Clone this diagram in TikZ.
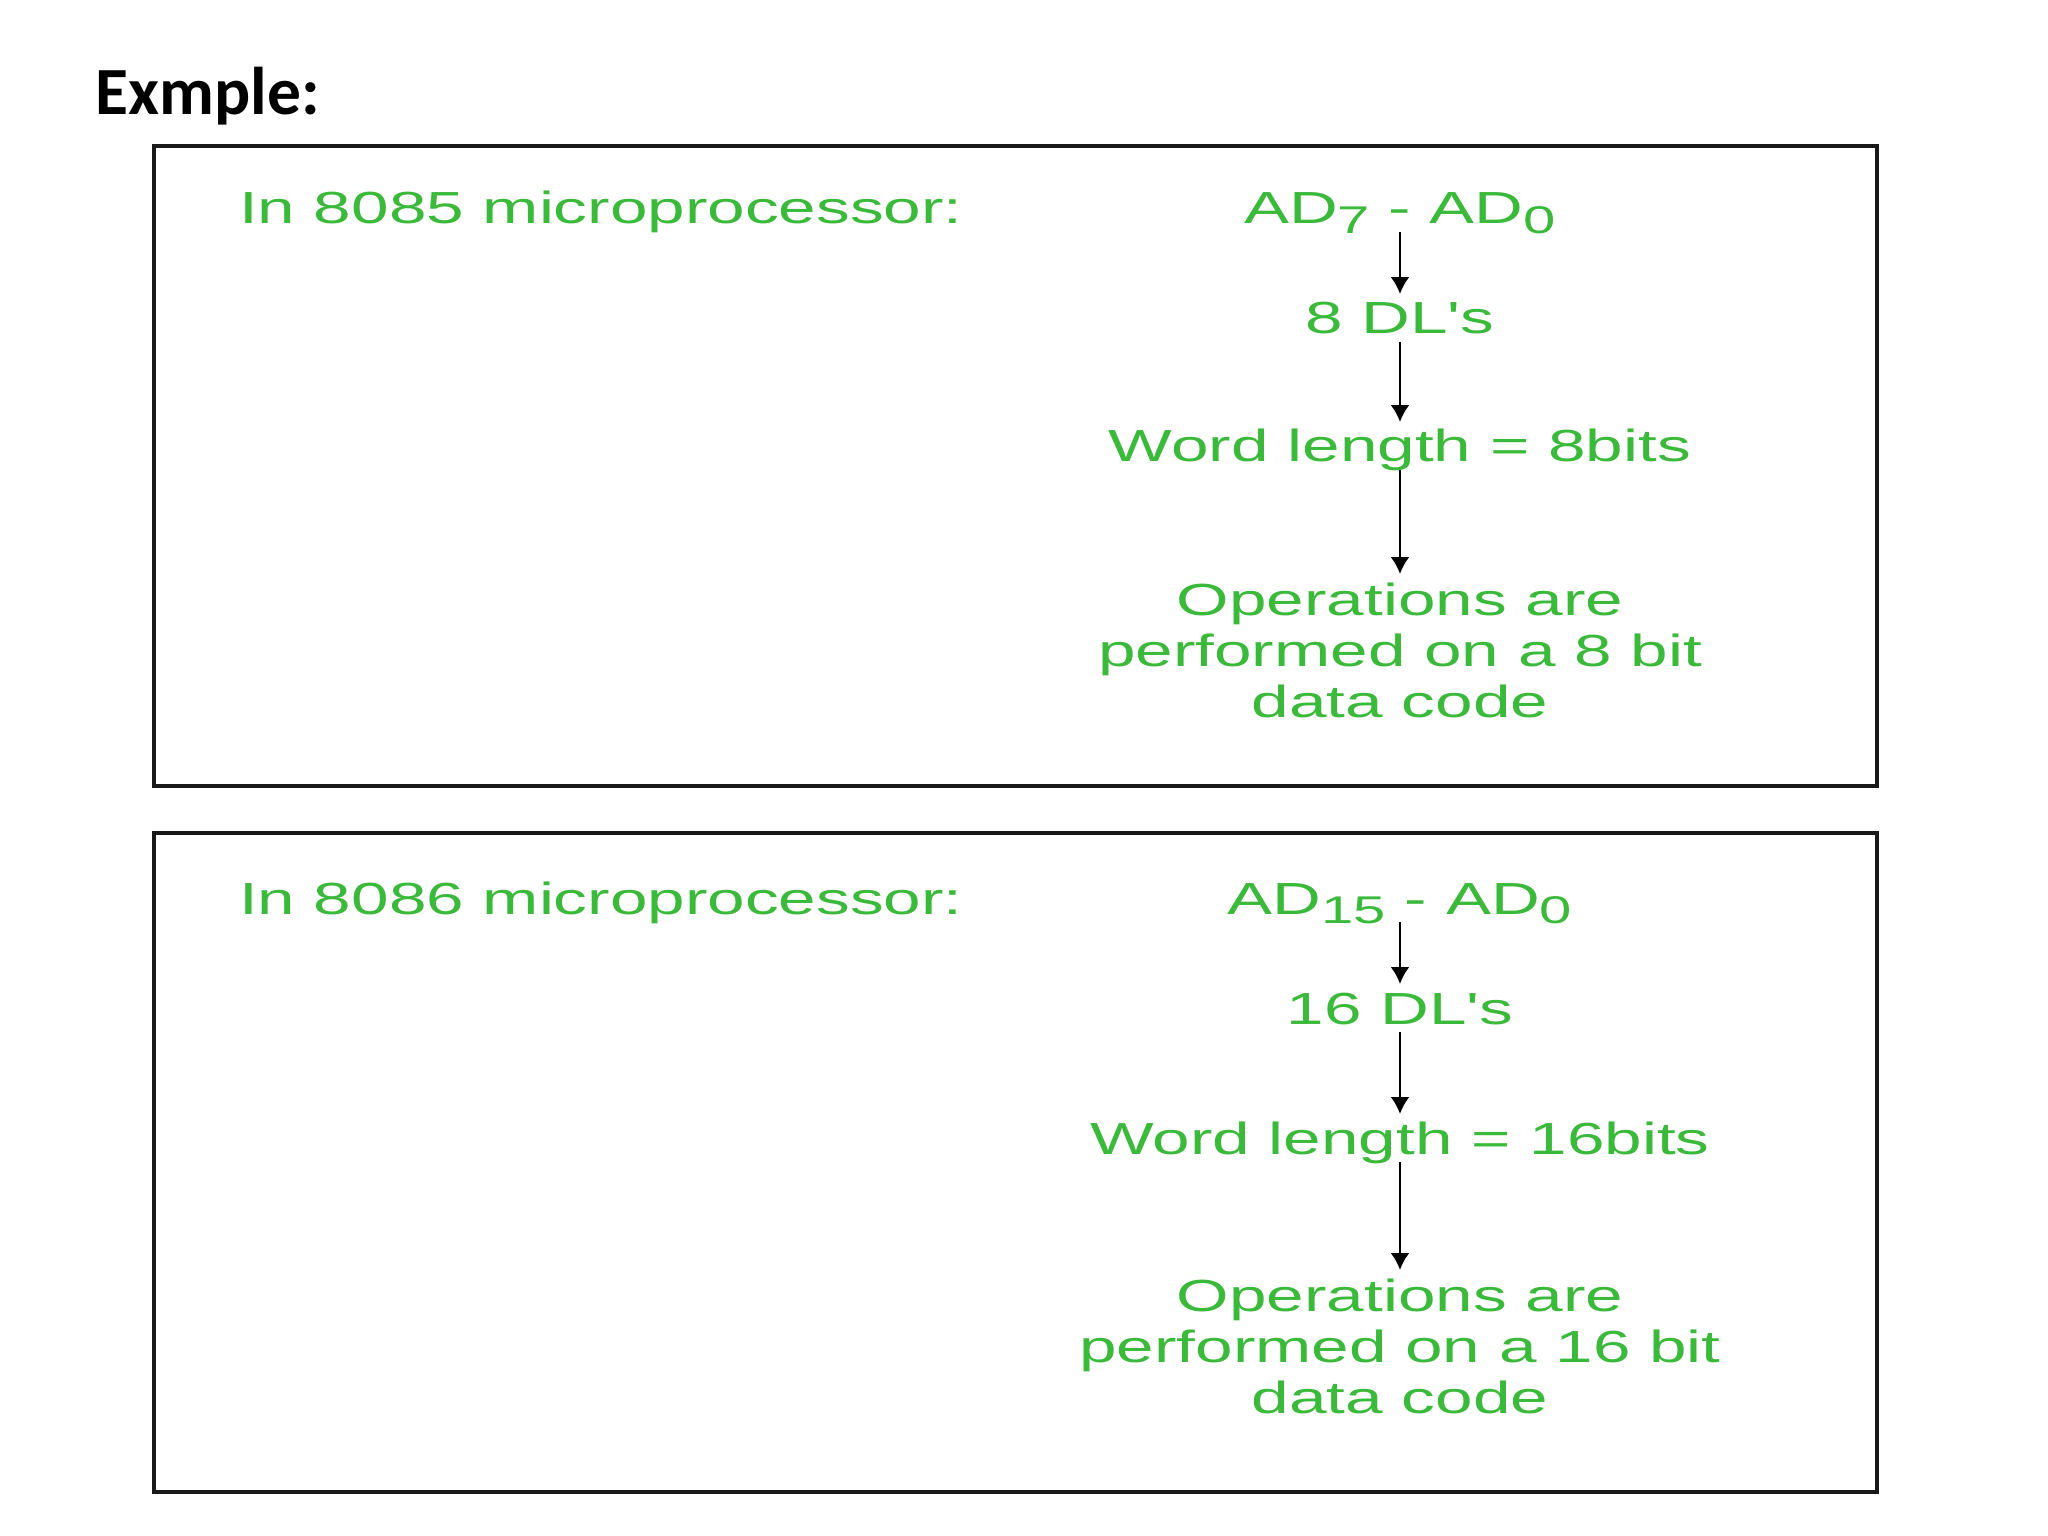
\documentclass[tikz,border=0pt]{standalone}
\usepackage{fontspec}
\usepackage{tikz}
\usetikzlibrary{positioning}
\usetikzlibrary{arrows.meta}
\tikzset{>={Latex[length=4.8pt,width=5.4pt]}}
\newfontfamily\gfgfont[FakeStretch=1.5]{Liberation Sans}
\newfontfamily\slidefont{Carlito}
\definecolor{gfggreen}{RGB}{58,185,58}
\newcommand{\lowidx}[1]{\raisebox{-2.8pt}{\fontsize{11}{11}\selectfont #1}}

\begin{document}
\begin{tikzpicture}[
            lbl/.style={text=gfggreen, font=\gfgfont\fontsize{12.8}{14.5}\selectfont,
                inner sep=0pt, outer sep=0pt, text height=0.40cm, text depth=0.08cm},
            ops/.style={text=gfggreen, font=\gfgfont\fontsize{12.8}{14.5}\selectfont,
                align=center, inner xsep=0pt, inner ysep=0.09cm, outer sep=0pt},
            frame/.style={draw=black!90, line width=1pt},
            flow/.style={->, line width=0.8pt}
        ]
        \useasboundingbox[fill=white] (0,0) rectangle (20.48,-15.36);
        \node[anchor=base west, inner sep=0pt, font=\slidefont\bfseries\fontsize{19.2}{23}\selectfont] (title) at (0.95,-1.15) {Exmple:};
        % 8085 box
        \draw[frame] (1.54,-1.46) rectangle (18.77,-7.86);
        \node[lbl, anchor=west] (cpuA) at (2.39,-2.08) {In 8085 microprocessor:};
        \node[lbl] (busA) at (14.00,-2.08) {AD\lowidx{7} - AD\lowidx{0}};
        \node[lbl, below=0.62cm of busA] (dlA) {8 DL's};
        \path[flow] (busA.south) edge (dlA.north);
        \node[lbl, below=0.80cm of dlA] (wordA) {Word length = 8bits};
        \path[flow] (dlA.south) edge (wordA.north);
        \node[ops, below=1.04cm of wordA] (opsA) {Operations are\\performed on a 8 bit\\data code};
        \path[flow] (wordA.south) edge (opsA.north);
        % 8086 box
        \draw[frame] (1.54,-8.33) rectangle (18.77,-14.92);
        \node[lbl, anchor=west] (cpuB) at (2.39,-8.98) {In 8086 microprocessor:};
        \node[lbl] (busB) at (14.00,-8.98) {AD\lowidx{15} - AD\lowidx{0}};
        \node[lbl, below=0.62cm of busB] (dlB) {16 DL's};
        \path[flow] (busB.south) edge (dlB.north);
        \node[lbl, below=0.82cm of dlB] (wordB) {Word length = 16bits};
        \path[flow] (dlB.south) edge (wordB.north);
        \node[ops, below=1.08cm of wordB] (opsB) {Operations are\\performed on a 16 bit\\data code};
        \path[flow] (wordB.south) edge (opsB.north);
        \end{tikzpicture}
\end{document}
